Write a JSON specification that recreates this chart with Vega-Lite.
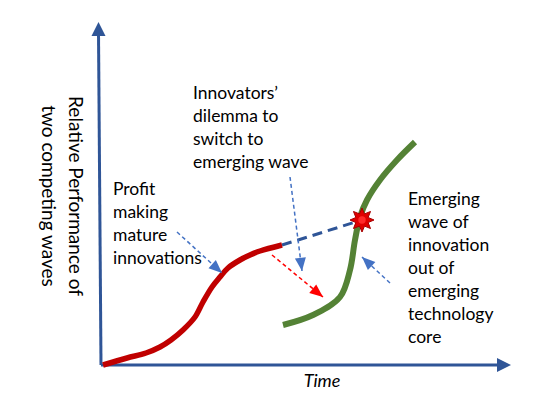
{
  "$schema": "https://vega.github.io/schema/vega-lite/v6.json",
  "width": 560,
  "height": 420,
  "padding": 0,
  "autosize": {"type": "none"},
  "background": "white",
  "view": {"stroke": null},
  "datasets": {
    "axes": [
      {"axis": "performance", "t": 0, "p": 0, "t2": -2.5, "p2": 332, "tipT": -2.5, "tipP": 343, "heading": 0},
      {"axis": "time", "t": 0, "p": 0, "t2": 398, "p2": 0, "tipT": 410, "tipP": 0, "heading": 90}
    ],
    "mature": [
      {"t": 2, "p": 0}, {"t": 26, "p": 7}, {"t": 45, "p": 12}, {"t": 59, "p": 18},
      {"t": 70, "p": 25}, {"t": 82, "p": 35}, {"t": 94, "p": 48}, {"t": 102, "p": 63},
      {"t": 111, "p": 78}, {"t": 119, "p": 88}, {"t": 127, "p": 97}, {"t": 139, "p": 105},
      {"t": 149, "p": 110}, {"t": 159, "p": 114}, {"t": 181, "p": 120}
    ],
    "emerging": [
      {"t": 182, "p": 40}, {"t": 212, "p": 50}, {"t": 239, "p": 68}, {"t": 249, "p": 95},
      {"t": 254, "p": 125}, {"t": 259, "p": 148}, {"t": 266, "p": 165}, {"t": 279, "p": 185},
      {"t": 296, "p": 205}, {"t": 314, "p": 223}
    ],
    "bridge": [{"t": 181, "p": 120, "t2": 261, "p2": 145}],
    "crossing": [{"t": 261, "p": 145}],
    "callouts": [
      {"note": "mature", "t": 76, "p": 133, "t2": 121, "p2": 92, "heading": 132},
      {"note": "dilemma", "t": 189, "p": 188, "t2": 201, "p2": 94, "heading": 173},
      {"note": "emerging", "t": 289, "p": 82, "t2": 261, "p2": 108, "heading": -47}
    ],
    "shift": [{"t": 171, "p": 110, "t2": 222, "p2": 68, "heading": 129}],
    "notes": [
      {"label": "Innovators’|dilemma to|switch to|emerging wave", "t": 92, "p": 266},
      {"label": "Profit|making|mature|innovations", "t": 12, "p": 170},
      {"label": "Emerging|wave of|innovation|out of|emerging|technology|core", "t": 307, "p": 160}
    ],
    "xtitle": [{"label": "Time", "t": 221, "p": -22}],
    "ytitle": [{"label": "Relative Performance of|two competing waves", "t": -26, "p": 169}]
  },
  "encoding": {
    "x": {"field": "t", "type": "quantitative", "scale": {"domain": [-101, 459], "nice": false, "zero": false}, "axis": null},
    "y": {"field": "p", "type": "quantitative", "scale": {"domain": [-55, 365], "nice": false, "zero": false}, "axis": null}
  },
  "layer": [
    {
      "data": {"name": "axes"},
      "mark": {"type": "rule", "color": "#2F5597", "strokeWidth": 3},
      "encoding": {"x2": {"field": "t2"}, "y2": {"field": "p2"}}
    },
    {
      "data": {"name": "axes"},
      "mark": {"type": "point", "shape": "M0,0L-1,2L1,2Z", "filled": true, "color": "#2F5597", "opacity": 1, "size": 196, "strokeWidth": 0},
      "encoding": {
        "x": {"field": "tipT", "type": "quantitative"},
        "y": {"field": "tipP", "type": "quantitative"},
        "angle": {"field": "heading", "type": "quantitative", "scale": null}
      }
    },
    {
      "data": {"name": "bridge"},
      "mark": {"type": "rule", "color": "#2F5597", "strokeWidth": 3, "strokeDash": [10, 6]},
      "encoding": {"x2": {"field": "t2"}, "y2": {"field": "p2"}}
    },
    {
      "data": {"name": "mature"},
      "mark": {"type": "line", "color": "#C00000", "strokeWidth": 5.5, "interpolate": "catmull-rom"},
      "encoding": {}
    },
    {
      "data": {"name": "emerging"},
      "mark": {"type": "line", "color": "#548235", "strokeWidth": 6, "interpolate": "catmull-rom"},
      "encoding": {}
    },
    {
      "data": {"name": "callouts"},
      "mark": {"type": "rule", "color": "#4472C4", "strokeWidth": 1.5, "strokeDash": [4, 3]},
      "encoding": {"x2": {"field": "t2"}, "y2": {"field": "p2"}}
    },
    {
      "data": {"name": "callouts"},
      "mark": {"type": "point", "shape": "M0,0L-1,2.4L1,2.4Z", "filled": true, "color": "#4472C4", "opacity": 1, "size": 121, "strokeWidth": 0},
      "encoding": {
        "x": {"field": "t2", "type": "quantitative"},
        "y": {"field": "p2", "type": "quantitative"},
        "angle": {"field": "heading", "type": "quantitative", "scale": null}
      }
    },
    {
      "data": {"name": "shift"},
      "mark": {"type": "rule", "color": "#FF0000", "strokeWidth": 1.5, "strokeDash": [4, 3]},
      "encoding": {"x2": {"field": "t2"}, "y2": {"field": "p2"}}
    },
    {
      "data": {"name": "shift"},
      "mark": {"type": "point", "shape": "M0,0L-1,2.4L1,2.4Z", "filled": true, "color": "#FF0000", "opacity": 1, "size": 121, "strokeWidth": 0},
      "encoding": {
        "x": {"field": "t2", "type": "quantitative"},
        "y": {"field": "p2", "type": "quantitative"},
        "angle": {"field": "heading", "type": "quantitative", "scale": null}
      }
    },
    {
      "data": {"name": "crossing"},
      "mark": {"type": "point", "shape": "M0,-1L0.21,-0.51L0.71,-0.71L0.51,-0.21L1,0L0.51,0.21L0.71,0.71L0.21,0.51L0,1L-0.21,0.51L-0.71,0.71L-0.51,0.21L-1,0L-0.51,-0.21L-0.71,-0.71L-0.21,-0.51Z", "filled": true, "fill": "#E00000", "stroke": "#A50000", "strokeWidth": 1, "opacity": 1, "size": 576}
    },
    {
      "data": {"name": "crossing"},
      "mark": {"type": "point", "shape": "circle", "filled": true, "color": "#FF2A2A", "opacity": 1, "size": 55, "strokeWidth": 0}
    },
    {
      "data": {"name": "notes"},
      "mark": {"type": "text", "font": "Lato", "fontSize": 17.5, "align": "left", "baseline": "alphabetic", "lineBreak": "|", "lineHeight": 23, "color": "#000000"},
      "encoding": {"text": {"field": "label"}}
    },
    {
      "data": {"name": "xtitle"},
      "mark": {"type": "text", "font": "Lato", "fontSize": 18, "fontStyle": "italic", "align": "center", "baseline": "alphabetic", "color": "#000000"},
      "encoding": {"text": {"field": "label"}}
    },
    {
      "data": {"name": "ytitle"},
      "mark": {"type": "text", "font": "Lato", "fontSize": 19, "angle": 90, "align": "center", "baseline": "middle", "lineBreak": "|", "lineHeight": 27, "color": "#000000"},
      "encoding": {"text": {"field": "label"}}
    }
  ]
}
